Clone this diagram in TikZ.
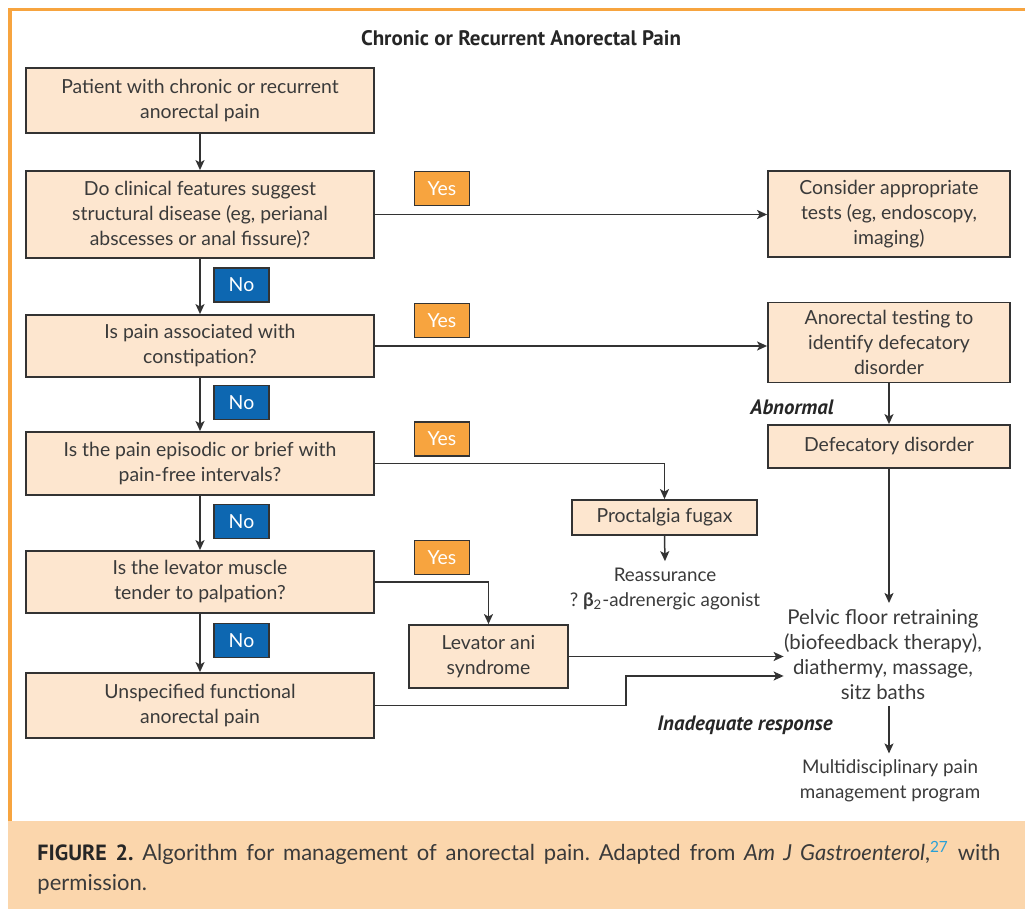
\documentclass[tikz,border=0pt]{standalone}
\usepackage{fontspec}
\setmainfont{Lato}
\newfontfamily\headfont{PT Sans}
\usepackage{xcolor}
\usepackage{tikz}
\usetikzlibrary{arrows.meta,positioning,calc}
\frenchspacing
\definecolor{frameorange}{RGB}{247,164,63}
\definecolor{boxfill}{RGB}{253,230,207}
\definecolor{bandfill}{RGB}{251,214,172}
\definecolor{noblue}{RGB}{13,103,177}
\definecolor{inktext}{RGB}{58,58,58}
\definecolor{inkline}{RGB}{51,51,51}
\definecolor{refcyan}{RGB}{41,160,214}
\tikzset{
  step box/.style={
    rectangle,
    draw=inkline,
    fill=boxfill,
    line width=0.9pt,
    align=center,
    text=inktext,
    inner sep=2pt,
    font=\fontsize{9.7}{12.5}\selectfont
  }
}
\tikzset{
  left box/.style={
    step box,
    minimum width=174pt
  }
}
\tikzset{
  right box/.style={
    step box,
    minimum width=121pt
  }
}
\tikzset{
  plain text/.style={
    align=center,
    text=inktext,
    inner xsep=0pt,
    inner ysep=3pt,
    font=\fontsize{9.4}{12.5}\selectfont
  }
}
\tikzset{
  yes tag/.style={
    rectangle,
    draw=inkline,
    fill=frameorange,
    line width=0.7pt,
    minimum width=27.5pt,
    minimum height=17pt,
    text=white,
    inner sep=0pt,
    font=\fontsize{9.7}{11}\selectfont
  }
}
\tikzset{
  no tag/.style={
    yes tag,
    fill=noblue
  }
}
\tikzset{
  outcome label/.style={
    text=black!85,
    inner sep=0pt,
    font=\headfont\bfseries\itshape\fontsize{10.4}{12}\selectfont
  }
}
\tikzset{
  flow/.style={
    -{Stealth[length=5pt,width=4.5pt,inset=1.2pt]},
    draw=inkline,
    line width=0.75pt
  }
}

\begin{document}
\begin{tikzpicture}[x=0.5pt,y=-0.5pt]

    \useasboundingbox (0,0) rectangle (1025,909);

    % ------------------------------------------------------------
    % Frame and caption band
    % ------------------------------------------------------------

    \fill[bandfill] (8,821) rectangle (1025,909);
    \draw[frameorange,line width=1.6pt] (10,821) -- (10,9.5) -- (1025,9.5);

    \node[inner sep=0pt,text=black!85,font=\headfont\bfseries\fontsize{10.5}{12}\selectfont]
      (title) at (521,38) {Chronic or Recurrent Anorectal Pain};

    % ------------------------------------------------------------
    % Nodes
    % ------------------------------------------------------------

    \node[left box,minimum height=32.5pt] (patient) at (200,100.5)
    {Patient with chronic or recurrent\\anorectal pain};

    \node[left box,minimum height=43.5pt] (clinical) at (200,214.5)
    {Do clinical features suggest\\structural disease (eg, perianal\\abscesses or anal fissure)?};

    \node[left box,minimum height=31pt] (constip) at (200,346)
    {Is pain associated with\\constipation?};

    \node[left box,minimum height=31.5pt] (episodic) at (200,463.5)
    {Is the pain episodic or brief with\\pain-free intervals?};

    \node[left box,minimum height=31pt] (levator) at (200,582)
    {Is the levator muscle\\tender to palpation?};

    \node[left box,minimum height=32.5pt] (unspec) at (200,705.5)
    {Unspecified functional\\anorectal pain};

    \node[right box,minimum height=43pt] (tests) at (889,214)
    {Consider appropriate\\tests (eg, endoscopy,\\imaging)};

    \node[right box,minimum height=40pt] (anotest) at (889,342.5)
    {Anorectal testing to\\identify defecatory\\disorder};

    \node[right box,minimum height=21.5pt] (defec) at (889,446.5)
    {Defecatory disorder};

    \node[step box,minimum width=92.5pt,minimum height=17.5pt] (fugax) at (664.5,517.5)
    {Proctalgia fugax};

    \node[step box,minimum width=79.5pt,minimum height=31.5pt] (lani) at (488.5,656.5)
    {Levator ani\\syndrome};

    \node[plain text] (reassure) at (665,588.5)
    {Reassurance\\? \textbf{β}\textsubscript{2}-adrenergic agonist};

    \node[plain text,font=\fontsize{10.2}{12.5}\selectfont] (pelvic) at (883,654.5)
    {Pelvic floor retraining\\(biofeedback therapy),\\diathermy, massage,\\sitz baths};

    \node[plain text] (multi) at (890,781)
    {Multidisciplinary pain\\management program};

    % answer tags
    \node[yes tag] (yes1) at (442,188.5) {Yes};
    \node[yes tag] (yes2) at (442,320.5) {Yes};
    \node[yes tag] (yes3) at (442,439) {Yes};
    \node[yes tag] (yes4) at (442,557.5) {Yes};

    \node[no tag] (no1) at (241.5,285) {No};
    \node[no tag] (no2) at (241.5,402.5) {No};
    \node[no tag] (no3) at (241.5,521.5) {No};
    \node[no tag] (no4) at (241.5,640.5) {No};

    \node[outcome label] (abnormal) at (792,407) {Abnormal};
    \node[outcome label] (inadequate) at (745,725) {Inadequate response};

    \coordinate (uknee) at (626,676);

    % ------------------------------------------------------------
    % Edges
    % ------------------------------------------------------------

    \draw[flow] (patient.south) -- (clinical.north);
    \draw[flow] (clinical.south) -- (constip.north);
    \draw[flow] (constip.south) -- (episodic.north);
    \draw[flow] (episodic.south) -- (levator.north);
    \draw[flow] (levator.south) -- (unspec.north);

    \draw[flow] (clinical.east) -- (clinical.east -| tests.west);
    \draw[flow] (constip.east) -- (constip.east -| anotest.west);
    \draw[flow] (anotest.south) -- (defec.north);
    \draw[flow] (episodic.east) -| (fugax.north);
    \draw[flow] (fugax.south) -- (reassure.north);
    \draw[flow] (levator.east) -| (lani.north);

    \draw[flow] (defec.south) -- (defec.south |- pelvic.north);
    \draw[flow] (lani.east) -- (lani.east -| pelvic.west);
    \draw[flow] (unspec.east) -| (uknee) -- (uknee -| pelvic.west);
    \draw[flow] (defec.south |- pelvic.south) -- (defec.south |- multi.north);

    % ------------------------------------------------------------
    % Caption
    % ------------------------------------------------------------

    \node[inner sep=0pt,text width=481.5pt,align=justify,text=inktext,
          font=\fontsize{11}{15}\selectfont] (caption) at (519,868)
    {{\headfont\bfseries\color{black!85}FIGURE 2.} Algorithm for management of anorectal pain.
     Adapted from \textit{Am J Gastroenterol},\textsuperscript{\color{refcyan}27} with \mbox{permission.}};

\end{tikzpicture}
\end{document}
